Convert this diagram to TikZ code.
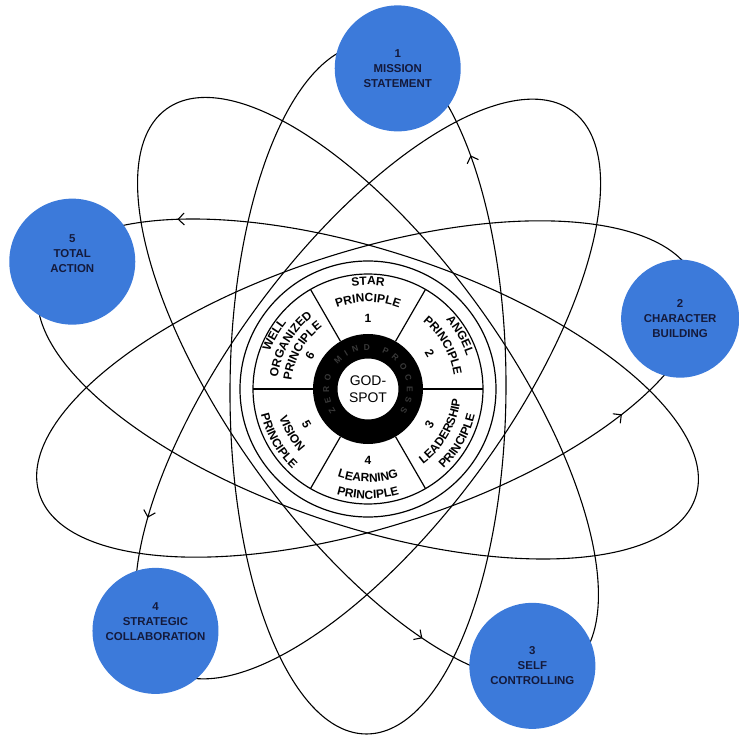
\documentclass[tikz,border=0pt]{standalone}
\usepackage{fontspec}
\setmainfont{Liberation Sans}
\usepackage{xcolor}
\usepackage{tikz}
\usetikzlibrary{calc, arrows.meta, decorations.markings, decorations.text}

\definecolor{planetblue}{RGB}{60,122,218}
\definecolor{planetink}{RGB}{20,26,60}

\begin{document}
\begin{tikzpicture}[x=1bp, y=1bp, >={Straight Barb[length=6bp, width=12bp]},
    orbit/.style={line width=1.1bp, postaction={decorate},
      decoration={markings, mark=at position 0.9 with {\arrow{>}}}},
    ringline/.style={line width=1.2bp},
    arclabel/.style={decorate, decoration={text along path, text align=center,
      text={|\fontsize{12}{12}\selectfont\bfseries|#1}}},
    planet/.style={circle, fill=planetblue, minimum size=126bp, inner sep=0pt},
    planettext/.style={align=center, text=planetink, inner sep=0pt,
      font=\fontsize{11.5}{15}\selectfont\bfseries}]
    \useasboundingbox (-368,-351) rectangle (371,389);

    % Quỹ đạo
    \foreach \g in {84.7, 12.7, -59.3, -131.3, 156.7}
      \draw[orbit, rotate=\g+5] (0,0) ellipse (345 and 138);

    % Vòng tròn ở giữa
    \fill[white] (0,0) circle (128);
    \draw[ringline] (0,0) circle (128);
    \draw[ringline] (0,0) circle (115);
    \foreach \g in {0,60,...,300}
      \draw[ringline] (\g:55) -- (\g:115);
    \fill[black, even odd rule] (0,0) circle (55) (0,0) circle (30.5);
    \path[decorate, decoration={text along path, text align={fit to path},
        text={|\fontsize{8.5}{9}\selectfont\bfseries\color{gray!45!black}|ZERO MIND PROCESS}}]
      (215:39) arc[start angle=215, end angle=-35, radius=39];
    \node[font=\fontsize{14}{17}\selectfont, align=center] (godspot) at (0,0) {GOD-\\SPOT};

    % Các nguyên lý (nửa trên)
    \foreach \g/\r/\t in {90/104/STAR, 90/87/PRINCIPLE, 90/67/1,
        30/104/ANGEL, 30/87/PRINCIPLE, 30/67/2,
        150/105/WELL, 150/91/ORGANIZED, 150/77/PRINCIPLE, 150/63/6}
      \path[arclabel=\t] (\g+30:\r) arc[start angle=\g+30, end angle=\g-30, radius=\r];
    % Các nguyên lý (nửa dưới)
    \foreach \g/\r/\t in {-30/75/3, -30/93/LEADERSHIP, -30/110/PRINCIPLE,
        -90/75/4, -90/93/LEARNING, -90/110/PRINCIPLE,
        -150/75/5, -150/93/VISION, -150/110/PRINCIPLE}
      \path[arclabel=\t] (\g-30:\r) arc[start angle=\g-30, end angle=\g+30, radius=\r];

    % Các hành tinh
    \node[planet] (p1) at (84.7:322) {};
    \node[planet, minimum size=118bp] (p2) at (12.7:320) {};
    \node[planet] (p3) at (-59.3:322) {};
    \node[planet] (p4) at (-131.3:322) {};
    \node[planet] (p5) at (156.7:322) {};
    \node[planettext] (t1) at (p1) {1\\MISSION\\STATEMENT};
    \node[planettext] (t2) at (p2) {2\\CHARACTER\\BUILDING};
    \node[planettext] (t3) at (p3) {3\\SELF\\CONTROLLING};
    \node[planettext] (t4) at ([yshift=9bp]p4.center) {4\\STRATEGIC\\COLLABORATION};
    \node[planettext] (t5) at ([yshift=8bp]p5.center) {5\\TOTAL\\ACTION};
\end{tikzpicture}
\end{document}
